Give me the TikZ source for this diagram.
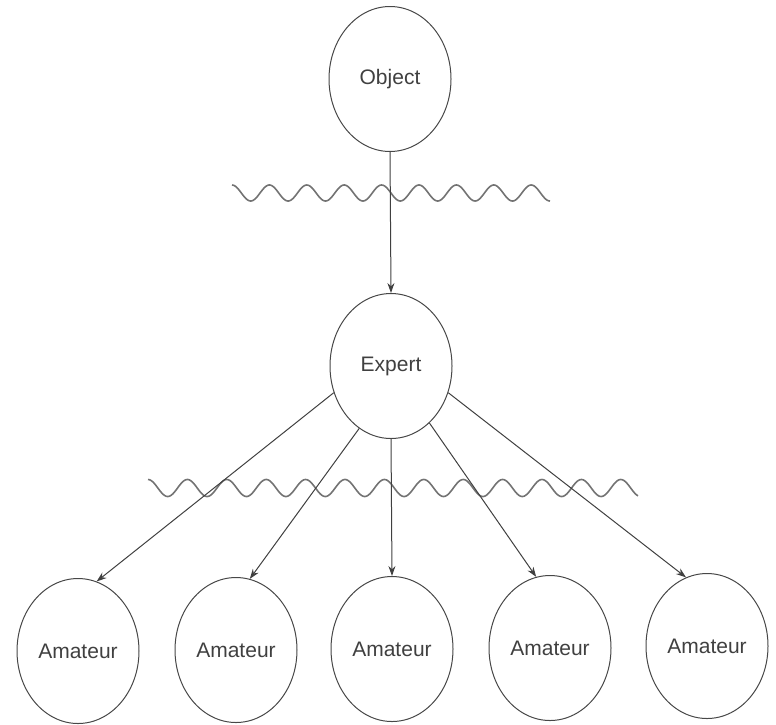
\documentclass[tikz,border=0pt]{standalone}
\usepackage{fontspec}
\setmainfont{Liberation Sans}
\usetikzlibrary{arrows.meta,shapes.geometric}
\begin{document}
\begin{tikzpicture}[x=1pt,y=-1pt,
  bubble/.style={ellipse, draw=black!72, line width=1pt, minimum width=122pt, minimum height=145pt, inner sep=0pt, text=black!75, font=\fontsize{21}{25}\selectfont},
  link/.style={draw=black!75, line width=1pt, -{Stealth[length=10pt,width=7pt]}},
  wave/.style={draw=black!55, line width=1.6pt}]
\useasboundingbox (0,0) rectangle (776,724);
% waves
\draw[wave] plot[domain=232:550, samples=320, smooth] (\x, {193 - 8*cos((\x-232)*9.626)});
\draw[wave] plot[domain=148:638, samples=480, smooth] (\x, {488 - 8.5*cos((\x-148)*9.137)});
% nodes
\node[bubble] (obj) at (390,79) {Object};
\node[bubble] (exp) at (391,366) {Expert};
\node[bubble] (a1) at (78,651) {Amateur};
\node[bubble] (a2) at (236,650) {Amateur};
\node[bubble] (a3) at (392,649) {Amateur};
\node[bubble] (a4) at (550,648) {Amateur};
\node[bubble] (a5) at (707,646) {Amateur};
% connectors
\draw[link] (obj.south) -- (exp.north);
\draw[link] (exp.205) -- (a1.75);
\draw[link] (exp.243) -- (a2.79);
\draw[link] (exp.south) -- (a3.north);
\draw[link] (exp.304) -- (a4.101);
\draw[link] (exp.335) -- (a5.107);
\end{tikzpicture}
\end{document}
